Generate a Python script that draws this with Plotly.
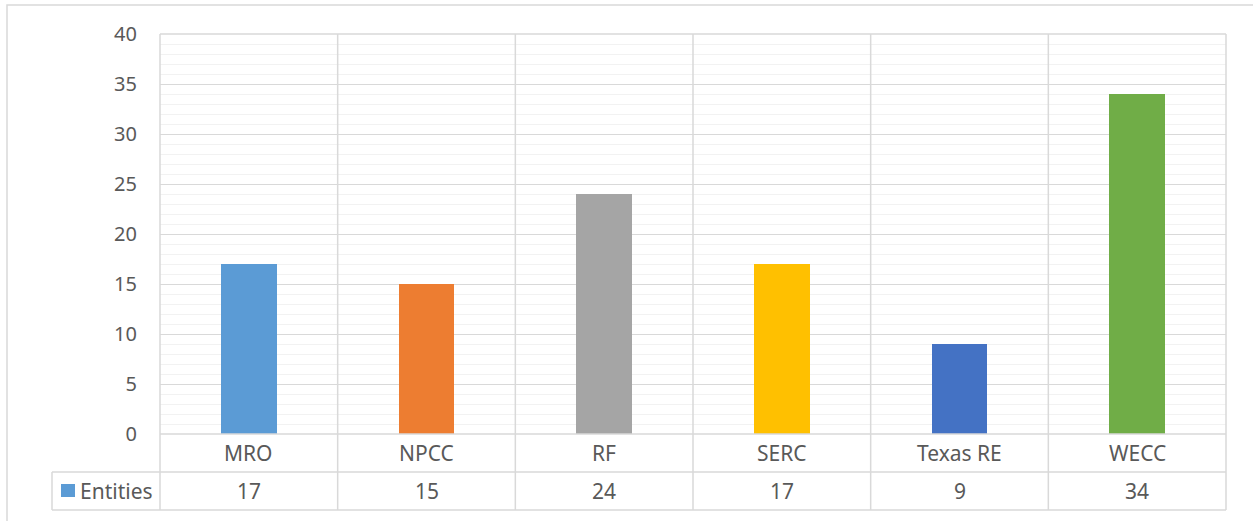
import plotly.graph_objects as go

categories = ["MRO", "NPCC", "RF", "SERC", "Texas RE", "WECC"]
entities = [17, 15, 24, 17, 9, 34]
colors = ["#5B9BD5", "#ED7D31", "#A5A5A5", "#FFC000", "#4472C4", "#70AD47"]
series_name = "Entities"

W, H = 1253, 521
L, R, T, B = 160, 1226, 34, 434
pw, ph = R - L, B - T

def px(x):
    return (x - L) / pw

def py(y):
    return (B - y) / ph

FONT = "Noto Sans"
TXT = "#595959"
GRID = "#D9D9D9"
FS = 20
FS_T = 21

fig = go.Figure(go.Bar(
    x=list(range(len(categories))), y=entities,
    marker=dict(color=colors, line=dict(width=0)),
    width=0.315, showlegend=False, hoverinfo="skip",
))

shapes = []
n = len(categories)
row1 = 472
row2 = 510
# outer chart border
shapes.append(dict(type="rect", xref="paper", yref="paper",
                   x0=px(7), x1=px(1262), y0=py(530), y1=py(5),
                   line=dict(color=GRID, width=1.5), layer="below"))
# vertical category boundaries through plot and table
for i in range(n + 1):
    xb = i / n
    shapes.append(dict(type="line", xref="paper", yref="paper",
                       x0=xb, x1=xb, y0=py(row2), y1=1,
                       line=dict(color=GRID, width=1.5), layer="above"))
# top border of plot area
shapes.append(dict(type="line", xref="paper", yref="paper",
                   x0=0, x1=1, y0=1, y1=1, line=dict(color=GRID, width=1.5)))
# table horizontal lines
shapes.append(dict(type="line", xref="paper", yref="paper",
                   x0=0, x1=1, y0=0, y1=0, line=dict(color=GRID, width=1.5)))
for yy in (row1, row2):
    shapes.append(dict(type="line", xref="paper", yref="paper",
                       x0=px(52), x1=1, y0=py(yy), y1=py(yy),
                       line=dict(color=GRID, width=1.5)))
shapes.append(dict(type="line", xref="paper", yref="paper",
                   x0=px(52), x1=px(52), y0=py(row2), y1=py(row1),
                   line=dict(color=GRID, width=1.5)))
# legend key
shapes.append(dict(type="rect", xref="paper", yref="paper",
                   x0=px(61), x1=px(75), y0=py(497), y1=py(484),
                   fillcolor=colors[0], line=dict(width=0)))

annotations = []
for i, (c, v) in enumerate(zip(categories, entities)):
    annotations.append(dict(x=i, xref="x", y=py((B + row1) / 2), yref="paper",
                            text=c, showarrow=False, yanchor="middle",
                            font=dict(family=FONT, size=FS_T, color=TXT)))
    annotations.append(dict(x=i, xref="x", y=py((row1 + row2) / 2), yref="paper",
                            text=str(v), showarrow=False, yanchor="middle",
                            font=dict(family=FONT, size=FS_T, color=TXT)))
annotations.append(dict(x=px(78), xref="paper", y=py((row1 + row2) / 2), yref="paper",
                        text=series_name, showarrow=False, xanchor="left", yanchor="middle",
                        font=dict(family=FONT, size=FS_T, color=TXT)))

fig.update_layout(
    width=W, height=H,
    margin=dict(l=L, r=W - R, t=T, b=H - B, pad=0),
    paper_bgcolor="white", plot_bgcolor="white",
    bargap=0,
    xaxis=dict(range=[-0.5, n - 0.5], showgrid=False, showticklabels=False,
               zeroline=False, showline=False, ticks=""),
    yaxis=dict(range=[0, 40], dtick=5, showgrid=True, gridcolor=GRID, gridwidth=1,
               zeroline=False, showline=False, ticks="",
               ticklabelstandoff=22,
               tickfont=dict(family=FONT, size=FS, color=TXT),
               minor=dict(dtick=1, showgrid=True, gridcolor="#F2F2F2", gridwidth=1)),
    shapes=shapes, annotations=annotations,
    font=dict(family=FONT, color=TXT),
)

fig.write_html("out.html", config={"displayModeBar": False},
               post_script="document.body.style.margin='0';document.body.style.overflow='hidden';")
